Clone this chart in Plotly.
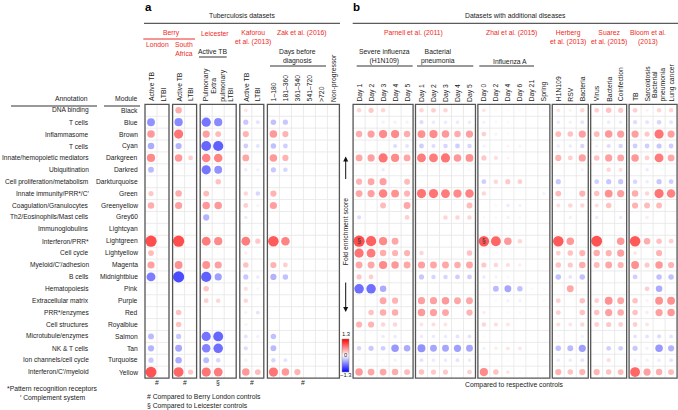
import plotly.graph_objects as go

W, H = 678, 410

# ---------------- data ----------------
annotations_txt = [
    "DNA binding", "T cells", "Inflammasome", "T cells", "Innate/hemopoietic mediators",
    "Ubiquitination", "Cell proliferation/metabolism", "Innate immunity/PRR*/C′",
    "Coagulation/Granulocytes", "Th2/Eosinophils/Mast cells", "Immunoglobulins",
    "Interferon/PRR*", "Cell cycle", "Myeloid/C′/adhesion", "B cells", "Hematopoiesis",
    "Extracellular matrix", "PRR*/enzymes", "Cell structures", "Microtubule/enzymes",
    "NK & T cells", "Ion channels/cell cycle", "Interferon/C′/myeloid",
]
modules = [
    "Black", "Blue", "Brown", "Cyan", "Darkgreen", "Darkred", "Darkturquoise", "Green",
    "Greenyellow", "Grey60", "Lightcyan", "Lightgreen", "Lightyellow", "Magenta",
    "Midnightblue", "Pink", "Purple", "Red", "Royalblue", "Salmon", "Tan", "Turquoise",
    "Yellow",
]

berry_london_cols = ["Active TB", "LTBI"]
berry_london = [
    [0, 0], [-0.8, 0], [0.75, 0], [-0.6, 0], [0.85, 0], [-0.5, 0], [0, 0], [0.4, 0],
    [0.6, 0], [0, 0], [0, 0], [1.3, 0], [0.5, 0], [0.7, 0], [-0.95, 0], [0, 0], [0, 0],
    [0, 0], [0, 0], [-0.5, 0], [-0.55, 0], [-0.4, 0], [1.25, 0],
]
berry_sa_cols = ["Active TB", "LTBI"]
berry_sa = [
    [0.6, 0], [-0.85, 0], [1.0, 0], [-0.55, 0], [0.75, 0.35], [0, 0], [0, 0], [0.6, 0],
    [0.7, 0], [0, 0], [0, 0], [1.3, 0], [0, 0], [0.8, 0], [-1.3, 0], [0, 0], [0, 0],
    [0.45, 0], [0.45, 0], [-0.4, 0], [-0.65, 0], [-0.6, 0], [1.1, 0.4],
]
leicester_cols = ["Pulmonary", "Extra<br>pulmonary", "LTBI"]
leicester = [
    [0, 0, 0], [-1.0, -0.85, 0], [0.7, 0.5, 0], [-1.1, -1.15, 0], [0.9, 0.9, 0],
    [-1.0, -0.8, 0], [0, 0.45, 0], [0.5, 0, 0], [0.75, 0.75, 0], [-0.55, 0, 0],
    [0, 0, 0], [0.95, 0.85, 0], [0, 0, 0], [0.8, 0.7, 0], [-1.15, -0.7, 0],
    [0.45, 0, 0], [0.35, 0.3, 0], [0, 0, 0], [0, 0, 0], [-1.0, -1.1, 0],
    [-0.9, -1.05, 0], [-0.5, -0.3, 0], [1.0, 0.95, 0],
]
kaforou_cols = ["Active TB", "LTBI"]
kaforou = [
    [0.2, 0], [-0.4, -0.2], [0.55, 0], [-0.35, -0.2], [0.65, 0], [-0.15, -0.1], [0, 0],
    [0.3, -0.3], [0.35, 0.1], [-0.15, 0], [0, 0], [0.95, 0.4], [0.15, 0], [0.45, 0],
    [-0.4, -0.15], [0.25, 0.08], [0.3, 0], [0.1, -0.2], [0.1, 0], [-0.2, -0.1],
    [-0.25, 0], [-0.1, 0], [0.75, 0.5],
]
zak_cols = ["1–180", "181–360", "361–540", "541–720", ">720", "Non-progressor"]
zak = [
    [0, 0, 0, 0, 0, 0], [-0.45, -0.4, 0, 0, 0, 0], [0.75, 0.55, 0, 0, 0, 0],
    [-0.45, -0.35, 0, 0, 0, 0], [0.75, 0.55, 0, 0, 0, 0], [-0.4, -0.3, 0, 0, 0, 0],
    [0, 0, 0, 0, 0, 0], [0.55, 0, 0, 0, 0, 0], [0.7, 0, 0, 0, 0, 0], [0, 0, 0, 0, 0, 0],
    [0, 0, 0, 0, 0, 0], [1.2, 0.9, 0, 0, 0, 0], [0, 0, 0, 0, 0, 0],
    [0.55, 0.35, 0, 0, 0, 0], [-0.55, -0.45, 0, 0, 0, 0], [0, 0, 0, 0, 0, 0],
    [0, 0, 0, 0, 0, 0], [0, 0, 0, 0, 0, 0], [0, 0, 0, 0, 0, 0], [-0.45, 0, 0, 0, 0, 0],
    [-0.5, 0, 0, 0, 0, 0], [-0.3, -0.2, 0, 0, 0, 0], [1.0, 0.75, 0.55, 0, 0, 0],
]
parnell_flu_cols = ["Day 1", "Day 2", "Day 3", "Day 4", "Day 5"]
parnell_flu = [
    [0.3, 0.4, 0.3, 0, 0], [0, 0, -0.1, -0.1, -0.1], [0.6, 0.7, 0.85, 0.85, 0.6],
    [0, 0, 0, -0.25, -0.2], [0.65, 0.7, 1.0, 0.85, 0.65], [0, 0, -0.15, 0, 0],
    [0.55, 0.65, 0.7, 0, 0.5], [0.65, 0.7, 0.9, 0.8, 0.55], [0, 0, 0.5, 0, 0.65],
    [-0.25, 0, 0, 0, 0.35], [0, 0, 0, 0, 0], [1.3, 1.15, 0.85, 0.65, 0],
    [1.0, 0.95, 0.6, 0.55, 0.55], [0.65, 0.65, 0.85, 0.75, 0.65], [0.4, 0.35, 0, 0, 0],
    [-1.05, -1.05, -0.6, 0, 0], [0, 0, 0.65, 0.55, 0], [0, 0.45, 0.6, 0.6, 0],
    [0.55, 0.55, 0.3, 0.3, 0], [0, 0, -0.15, -0.15, 0], [-0.3, -0.4, -0.35, -0.75, -0.6],
    [-0.05, 0, -0.05, -0.1, 0], [0.75, 0.65, 0.65, 0.6, 0.5],
]
parnell_bact_cols = ["Day 1", "Day 2", "Day 3", "Day 4", "Day 5"]
parnell_bact = [
    [0.3, 0.35, 0.3, 0, 0], [-0.25, -0.15, -0.15, -0.15, -0.15],
    [0.8, 0.85, 0.75, 0.6, 0.7], [-0.35, -0.25, -0.3, -0.35, -0.3],
    [0.95, 0.95, 1.0, 0.75, 0.8], [-0.05, 0, -0.05, 0, -0.05], [0, 0, 0, 0, 0],
    [1.0, 1.0, 0.95, 0.85, 0.9], [0, 0, 0, 0, 0.5], [0, 0, 0.3, 0.3, 0.3],
    [0, 0, 0, 0, 0], [0, 0, 0, 0, 0], [0.3, 0, 0, 0, 0.45], [0.7, 0.65, 0.65, 0.6, 0.65],
    [-0.4, -0.3, -0.3, -0.35, -0.35], [0, 0, 0, 0, 0], [0.7, 0.7, 0.75, 0.65, 0.65],
    [0.75, 0.7, 0.65, 0, 0.55], [0.2, 0.25, 0.2, 0, 0], [-0.15, -0.15, -0.15, -0.2, -0.2],
    [-0.8, -0.65, -0.65, -0.7, -0.65], [-0.2, -0.15, -0.15, -0.2, -0.15],
    [0.45, 0.4, 0.4, 0, 0.35],
]
zhai_cols = ["Day 0", "Day 2", "Day 4", "Day 6", "Day 21", "Spring"]
zhai = [
    [0.2, 0.05, 0.05, 0.05, 0.03, 0.05], [-0.1, -0.05, -0.05, 0, 0, 0],
    [0.35, 0.1, 0.05, 0, 0, 0], [-0.1, 0, 0.1, 0.1, 0, 0], [0.4, 0.25, 0.1, 0, 0, 0],
    [0, 0, 0, 0, 0, 0], [-0.35, 0.3, 0.4, 0.35, 0, 0], [0.3, 0, 0, 0, 0, -0.1],
    [0, 0.05, -0.15, -0.1, 0, 0], [-0.05, -0.05, -0.1, -0.05, 0, 0], [0, 0, 0, 0, 0, 0],
    [1.2, 1.1, 0.75, 0.3, 0, 0], [0.05, 0.05, 0, 0, 0, 0], [0.4, 0.3, 0.25, 0.15, 0, 0],
    [-0.15, -0.1, -0.05, 0, 0, 0], [0.05, -0.5, -0.65, -0.45, 0.05, 0.05],
    [0, -0.05, -0.1, -0.1, 0, -0.05], [0.15, 0, 0.05, 0.05, 0, 0],
    [0.3, 0.25, 0.2, 0, 0, 0], [0.05, 0, 0, 0, 0, 0], [-0.1, 0.15, 0.2, 0.2, 0, 0],
    [0.03, 0.03, 0.03, 0.03, 0, 0], [0.85, 0.45, 0.2, 0.05, 0, 0],
]
herberg_cols = ["H1N109", "RSV", "Bacteria"]
herberg = [
    [0.2, 0.1, 0.3], [-0.15, -0.1, -0.2], [0.5, 0.45, 0.7], [-0.15, -0.15, -0.3],
    [0.55, 0.35, 0.7], [0, 0, -0.1], [-0.4, 0, 0], [0.5, 0, 0.55], [0.25, 0.3, 0.3],
    [0, -0.1, 0], [0, 0, 0], [1.2, 0.75, 0], [0.35, 0.45, 0.55], [0.45, 0.4, 0.6],
    [-0.45, -0.2, -0.45], [0, 0.65, 0], [0.35, 0, 0.45], [0.35, 0, 0.45],
    [0.25, 0.2, 0.3], [-0.05, 0, -0.1], [-0.45, -0.5, -0.7], [-0.15, -0.15, -0.2],
    [0.55, 0.45, 0.55],
]
suarez_cols = ["Virus", "Bacteria", "Coinfection"]
suarez = [
    [0.35, 0.45, 0.4], [0, -0.15, -0.15], [0.5, 0.75, 0.7], [-0.1, -0.25, -0.3],
    [0.45, 0.7, 0.65], [0, 0.3, 0.25], [-0.35, -0.4, -0.4], [0.45, 0.8, 0.7],
    [0.25, 0.45, 0], [-0.15, 0, -0.15], [0, 0, 0], [1.25, 0, 0.75], [0.6, 0.55, 0.7],
    [0.5, 0.65, 0.55], [0, 0, 0], [0, 0, 0], [0.35, 0.8, 0.65], [0.45, 0.7, 0.6],
    [0.35, 0.4, 0.35], [0, 0, 0], [0, -0.35, -0.35], [0, 0.25, 0], [0.55, 0.45, 0.5],
]
bloom_cols = ["TB", "Sarcoidosis", "Bacterial<br>pneumonia", "Lung cancer"]
bloom = [
    [0.35, 0.1, 0.3, 0.3], [-0.25, -0.2, -0.3, -0.2], [0.7, 0.4, 1.0, 0.7],
    [-0.35, -0.35, -0.4, -0.35], [0.75, 0.35, 0.95, 0.65], [0, -0.15, 0, 0],
    [-0.3, -0.15, -0.4, -0.35], [0.6, 0.3, 1.0, 0.9], [0.55, 0.5, 0.5, 0],
    [0, 0.15, 0, 0], [0, 0, 0, 0], [1.2, 0.6, 0.45, 0.35], [0.2, 0, 0.55, 0],
    [0.8, 0.4, 0.75, 0.55], [-0.35, 0, -0.45, -0.45], [0, 0.35, -0.6, 0],
    [0.45, 0.1, 0.8, 0.8], [0.45, 0.15, 0.7, 0.75], [0.35, 0.2, 0, 0],
    [-0.2, -0.2, -0.25, -0.2], [-0.4, -0.1, -0.75, -0.55], [-0.1, -0.1, -0.15, -0.2],
    [1.1, 0.7, 0.6, 0.5],
]

boxes = [
    (berry_london_cols, berry_london), (berry_sa_cols, berry_sa),
    (leicester_cols, leicester), (kaforou_cols, kaforou), (zak_cols, zak),
    (parnell_flu_cols, parnell_flu), (parnell_bact_cols, parnell_bact),
    (zhai_cols, zhai), (herberg_cols, herberg), (suarez_cols, suarez),
    (bloom_cols, bloom),
]
box_gaps = [0.3, 0.3, 0.3, 0.3, 1.14, 0.2, 0.2, 0.2, 0.2, 0.2]
box_footnotes = ["#", "#", "§", "#", "#"]
section_cells = [(5, 11, 0), (7, 11, 0)]  # (box index, row, col) marked with §

VMAX = 1.3
RED = "#ee2a24"
TXT = "#222222"
FONT = "Liberation Sans, Arial, sans-serif"

# ---------------- layout helpers ----------------
def px(x):
    return x / W

def py(y):
    return 1 - y / H

n_rows = len(modules)
pos = 0.0
col_x = []
box_ranges = []
for i, (cols, vals) in enumerate(boxes):
    if i > 0:
        pos += box_gaps[i - 1]
    xs = [pos + k for k in range(len(cols))]
    col_x.append(xs)
    box_ranges.append((xs[0] - 0.5, xs[-1] + 0.5))
    pos = xs[-1] + 1

# dots
dx, dy, dv, ds = [], [], [], []
for (cols, vals), xs in zip(boxes, col_x):
    for r in range(n_rows):
        for c in range(len(cols)):
            v = vals[r][c]
            if v != 0:
                dx.append(xs[c]); dy.append(r); dv.append(v)
                ds.append(2.5 + 6.7 * abs(v))

# grid lines
gx, gy = [], []
for (b0, b1), xs in zip(box_ranges, col_x):
    for r in range(n_rows - 1):
        gx += [b0, b1, None]; gy += [r + 0.5, r + 0.5, None]
    for x in xs[:-1]:
        gx += [x + 0.5, x + 0.5, None]; gy += [-0.5, n_rows - 0.5, None]

fig = go.Figure()
fig.add_trace(go.Scatter(x=gx, y=gy, mode="lines", line=dict(color="#e6e6e6", width=0.8),
                         hoverinfo="skip", showlegend=False))
fig.add_trace(go.Scatter(
    x=dx, y=dy, mode="markers", showlegend=False,
    marker=dict(size=ds, color=dv, cmin=-VMAX, cmax=VMAX,
                colorscale=[[0, "#0000ff"], [0.5, "#ffffff"], [1, "#ff0000"]],
                line=dict(width=0), showscale=True,
                colorbar=dict(x=px(342.3), xanchor="left", y=py(355), yanchor="middle",
                              len=33.4, lenmode="pixels", thickness=6.7,
                              thicknessmode="pixels", showticklabels=False, ticks="",
                              outlinewidth=0.5, outlinecolor="#888", xpad=0, ypad=0)),
))
sx = [col_x[b][c] for b, r, c in section_cells]
sy = [r for b, r, c in section_cells]
fig.add_trace(go.Scatter(x=sx, y=sy, mode="text", text=["§"] * len(sx),
                         textfont=dict(size=6.5, color="#333", family=FONT),
                         hoverinfo="skip", showlegend=False))

shapes = []
for b0, b1 in box_ranges:
    shapes.append(dict(type="rect", xref="x", yref="y", x0=b0, x1=b1, y0=-0.5,
                       y1=n_rows - 0.5, line=dict(color="#555555", width=1.3)))

def hline(x0, x1, y, color="#333333", w=1):
    shapes.append(dict(type="line", xref="paper", yref="paper", x0=px(x0), x1=px(x1),
                       y0=py(y), y1=py(y), line=dict(color=color, width=w)))

hline(144, 340, 23.3)
hline(352.7, 678, 23.3)
hline(143.3, 195, 39, RED)
hline(199, 226.7, 57)
hline(270, 326, 66)
hline(356.7, 412.7, 66)
hline(417, 473.3, 66)
hline(479.3, 534, 66)
hline(11, 97, 106)
hline(104, 140, 106)

ann = []

def txt(t, x, y, size=6.8, color=TXT, xanchor="center", bold=False, angle=0, yanchor="middle"):
    ann.append(dict(text=("<b>%s</b>" % t) if bold else t, x=px(x), y=py(y),
                    xref="paper", yref="paper", showarrow=False, xanchor=xanchor,
                    yanchor=yanchor, textangle=angle,
                    font=dict(size=size, color=color, family=FONT)))

for r in range(n_rows):
    ann.append(dict(text=annotations_txt[r], x=px(90.5), y=r, xref="paper", yref="y",
                    xanchor="right", yanchor="middle", showarrow=False,
                    font=dict(size=6.6, color=TXT, family=FONT)))
    ann.append(dict(text=modules[r], x=px(139.5), y=r, xref="paper", yref="y",
                    xanchor="right", yanchor="middle", showarrow=False,
                    font=dict(size=6.7, color=TXT, family=FONT)))

for (cols, vals), xs in zip(boxes, col_x):
    for c, lab in enumerate(cols):
        ann.append(dict(text=lab, x=xs[c], y=py(103.5), xref="x", yref="paper",
                        xanchor="center", yanchor="bottom", textangle=-90,
                        showarrow=False, font=dict(size=6.8, color=TXT, family=FONT)))

for i, sym in enumerate(box_footnotes):
    b0, b1 = box_ranges[i]
    ann.append(dict(text=sym, x=(b0 + b1) / 2, y=py(382.3), xref="x", yref="paper",
                    xanchor="center", yanchor="middle", showarrow=False,
                    font=dict(size=6.8, color=TXT, family=FONT)))

txt("a", 148.7, 6.5, size=11.5, bold=True, color="#000")
txt("b", 356.3, 6.5, size=11.5, bold=True, color="#000")
txt("Tuberculosis datasets", 241.7, 15.7)
txt("Datasets with additional diseases", 515, 15.7)
txt("Berry", 171, 33.3, color=RED)
txt("London", 157, 45, color=RED)
txt("South<br>Africa", 184, 49.3, color=RED)
txt("Leicester", 215, 33.3, color=RED)
txt("Kaforou<br>et al. (2013)", 253.3, 37.5, color=RED)
txt("Zak et al. (2016)", 301.7, 33.3, color=RED)
txt("Active TB", 212.7, 51)
txt("Days before<br>diagnosis", 297.7, 56.7)
txt("Parnell et al. (2011)", 413.3, 33.3, color=RED)
txt("Zhai et al. (2015)", 511.7, 33.3, color=RED)
txt("Herberg<br>et al. (2013)", 567.7, 37.5, color=RED)
txt("Suarez<br>et al. (2015)", 608.7, 37.5, color=RED)
txt("Bloom et al.<br>(2013)", 648.3, 37.5, color=RED)
txt("Severe influenza<br>(H1N109)", 384.3, 56.7)
txt("Bacterial<br>pneumonia", 438.3, 56.7)
txt("Influenza A", 510, 61)
txt("Annotation", 90, 98.7, xanchor="right")
txt("Module", 139.5, 98.7, xanchor="right")
txt("Fold enrichment score", 345.7, 231.5, angle=-90)
txt("1.3", 345.5, 333.5, size=5.8)
txt("0", 345.5, 355, size=5.8)
txt("−1.3", 345.5, 375, size=5.8)
txt("*Pattern recognition receptors", 52.3, 389.3)
txt("′ Complement system", 52, 398)
txt("# Compared to Berry London controls", 145.3, 396.7, xanchor="left")
txt("§ Compared to Leicester controls", 145.3, 406, xanchor="left")
txt("Compared to respective controls", 514.3, 385)

# arrows
ann.append(dict(text="", x=px(345.7), y=py(156.5), xref="paper", yref="paper",
                showarrow=True, ax=0, ay=24, arrowhead=2, arrowsize=1, arrowwidth=1,
                arrowcolor="#111"))
ann.append(dict(text="", x=px(345.7), y=py(312), xref="paper", yref="paper",
                showarrow=True, ax=0, ay=-31, arrowhead=2, arrowsize=1, arrowwidth=1,
                arrowcolor="#111"))

x_lo = -151 / 12
fig.update_layout(
    width=W, height=H, margin=dict(l=0, r=0, t=0, b=0, pad=0),
    paper_bgcolor="white", plot_bgcolor="white",
    xaxis=dict(range=[x_lo, x_lo + W / 12], visible=False, showgrid=False, zeroline=False),
    yaxis=dict(range=[(H - 110.3) / 11.9, -110.3 / 11.9], visible=False, showgrid=False,
               zeroline=False),
    shapes=shapes, annotations=ann, font=dict(family=FONT, color=TXT),
)
fig.write_html("out.html", config={"displayModeBar": False},
               post_script="document.body.style.margin='0';document.body.style.overflow='hidden';")
